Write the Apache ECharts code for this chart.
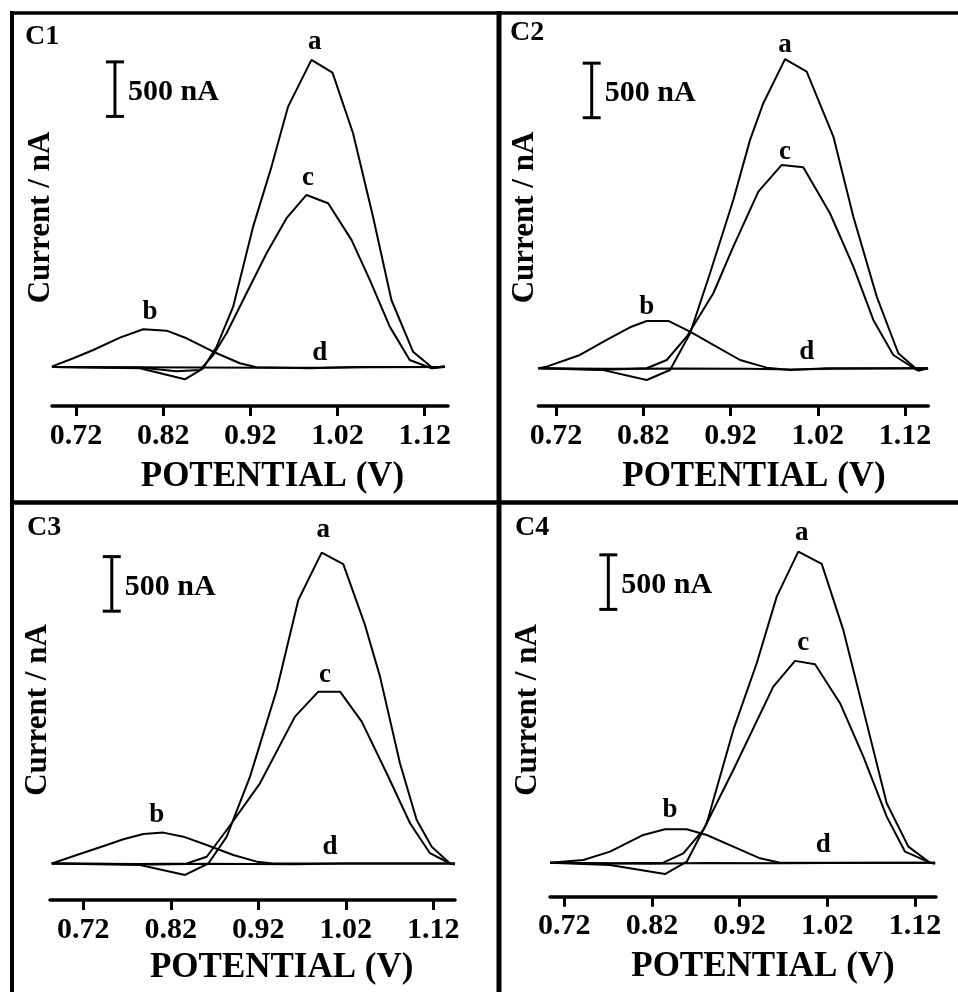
<!DOCTYPE html>
<html>
<head>
<meta charset="utf-8">
<script src="https://cdn.jsdelivr.net/npm/echarts@6/dist/echarts.min.js"></script>
<style>
html,body{margin:0;padding:0;background:#fff;}
#chart{width:958px;height:992px;}
</style>
</head>
<body>
<div id="chart"></div>
<script>
// ---------------- data ----------------
const potentialTicks = [0.72, 0.82, 0.92, 1.02, 1.12];
const panelTitles = ['C1', 'C2', 'C3', 'C4'];
const curveNames = ['a', 'b', 'c', 'd'];
const xAxisTitle = 'POTENTIAL (V)';
const yAxisTitle = 'Current / nA';
const scaleBarValue = 500;
const scaleBarText = '500 nA';

// Panel C1 (potential V, current nA)
const c1A = [[0.6925,0],[0.7934,-12],[0.8449,-113],[0.8659,-12],[0.8813,186],[0.9003,553],[0.9232,1287],[0.9443,1837],[0.9633,2387],[0.9901,2815],[1.0142,2699],[1.0378,2143],[1.0607,1378],[1.0818,614],[1.1066,140],[1.1295,-12],[1.1429,9]];
const c1B = [[0.6921,3],[0.717,80],[0.7398,156],[0.7704,269],[0.7971,346],[0.824,333],[0.8469,263],[0.8774,140],[0.908,34],[0.9271,-3],[0.988,-12],[1.04,0],[1.1429,0]];
const c1C = [[0.6925,0],[0.7934,-5],[0.835,-40],[0.8621,-28],[0.8774,110],[0.8927,309],[0.9156,676],[0.9386,1043],[0.9615,1364],[0.9844,1577],[1.0092,1501],[1.036,1165],[1.057,798],[1.0799,370],[1.1028,64],[1.1277,-12],[1.1429,0]];
const c1D = [[0.6925,0],[0.78,-3],[0.86,-5],[0.94,-8],[1.0,-6],[1.06,-2],[1.1429,0]];

// Panel C2
const c2A = [[0.6997,0],[0.7704,-10],[0.824,-107],[0.8507,-16],[0.8736,318],[0.8965,871],[0.9232,1543],[0.9424,2094],[0.9576,2430],[0.9825,2834],[1.0073,2720],[1.0379,2124],[1.0608,1390],[1.0876,657],[1.1123,138],[1.1353,-22],[1.1464,0]];
const c2B = [[0.6997,0],[0.7093,15],[0.7475,122],[0.778,260],[0.8048,376],[0.824,434],[0.8488,434],[0.8736,336],[0.9003,214],[0.9309,76],[0.9615,6],[0.9882,-16],[1.03,0],[1.1464,0]];
const c2C = [[0.6997,0],[0.7704,-15],[0.824,0],[0.8469,76],[0.8698,290],[0.9003,688],[0.9232,1115],[0.9519,1619],[0.9787,1864],[1.0034,1843],[1.034,1421],[1.0608,932],[1.0837,443],[1.1066,122],[1.1333,-16],[1.1464,0]];
const c2D = [[0.6997,0],[0.78,-5],[0.86,-3],[0.94,-5],[0.99,-10],[1.04,-5],[1.1464,0]];

// Panel C3
const c3A = [[0.6839,0],[0.7848,-14],[0.8362,-105],[0.8629,0],[0.8839,246],[0.9105,796],[0.941,1591],[0.9657,2416],[0.9924,2850],[1.0171,2744],[1.0419,2187],[1.0591,1713],[1.0819,919],[1.101,399],[1.1182,154],[1.1391,0],[1.1448,-10]];
const c3B = [[0.6839,0],[0.7125,78],[0.7467,170],[0.7657,222],[0.7886,271],[0.8114,283],[0.8343,246],[0.861,170],[0.8914,78],[0.9182,17],[0.9371,0],[1.1448,0]];
const c3C = [[0.6839,0],[0.7848,-5],[0.8382,0],[0.861,62],[0.8839,307],[0.9219,735],[0.9619,1346],[0.9886,1575],[1.0134,1575],[1.0382,1300],[1.0667,827],[1.0934,369],[1.1162,94],[1.1391,0]];
const c3D = [[0.6839,0],[0.76,-5],[0.80,-10],[0.86,-3],[0.96,-8],[1.02,0],[1.1448,0]];

// Panel C4
const c4A = [[0.7038,0],[0.7722,-21],[0.8349,-104],[0.8597,9],[0.8825,361],[0.9128,1217],[0.9395,1828],[0.9623,2439],[0.9869,2852],[1.0136,2739],[1.0382,2134],[1.063,1339],[1.0877,545],[1.1124,147],[1.1371,0],[1.1429,-10]];
const c4B = [[0.7038,0],[0.7418,25],[0.7722,101],[0.8102,254],[0.8349,306],[0.8597,306],[0.8825,254],[0.9128,147],[0.9433,40],[0.9661,0],[1.1429,0]];
const c4C = [[0.7038,0],[0.7722,-5],[0.833,0],[0.8558,86],[0.8786,300],[0.9128,850],[0.9584,1614],[0.9832,1850],[1.006,1819],[1.0345,1462],[1.0611,972],[1.0877,422],[1.1086,101],[1.1371,0]];
const c4D = [[0.7038,0],[0.77,-8],[0.82,-10],[0.88,-3],[0.97,-5],[1.02,-3],[1.1429,0]];

const panelCurves = [[c1A,c1B,c1C,c1D],[c2A,c2B,c2C,c2D],[c3A,c3B,c3C,c3D],[c4A,c4B,c4C,c4D]];

// curve letter anchors (potential, current) in order a, b, c, d
const c1LabelAt = [[0.9939,2980],[0.8048,507],[0.9862,1730],[0.9997,126]];
const c2LabelAt = [[0.9825,2965],[0.824,565],[0.9825,1986],[1.0073,152]];
const c3LabelAt = [[0.9943,3058],[0.8039,445],[0.9962,1729],[1.0019,154]];
const c4LabelAt = [[0.9908,3021],[0.8406,483],[0.9926,2012],[1.0154,162]];
const panelLabelAt = [c1LabelAt,c2LabelAt,c3LabelAt,c4LabelAt];

// scale bar anchor (potential, bottom current)
const scaleBarAt = [[0.7647,2297],[0.7609,2297],[0.7525,2313],[0.7703,2322]];

// ---------------- layout (pixels) ----------------
const layouts = [
  {left:52,    top:7,     width:396, height:399,   xMin:0.6925, xMax:1.1467, yMin:-357.6, title:[25,37],  ylab:[40.5,217.5], xlab:[272.5,477]},
  {left:538.3, top:8.3,   width:390, height:397.7, xMin:0.6997, xMax:1.1467, yMin:-345.7, title:[510,33], ylab:[525,217.5],  xlab:[754,476.7]},
  {left:50,    top:503.5, width:405, height:396.5, xMin:0.6819, xMax:1.1448, yMin:-334.7, title:[27,528], ylab:[37.5,710],   xlab:[281.7,968]},
  {left:550,   top:502.7, width:386, height:394,   xMin:0.7038, xMax:1.1439, yMin:-311.8, title:[515,528],ylab:[527.5,710],   xlab:[763,966.7]}
];
const yMax = 3300;
const FONT = '"Liberation Serif", "Times New Roman", serif';

const grids = [], xAxes = [], yAxes = [], series = [], graphics = [];

layouts.forEach((L, i) => {
  grids.push({left:L.left, top:L.top, width:L.width, height:L.height});
  xAxes.push({
    type:'value', gridIndex:i, min:L.xMin, max:L.xMax,
    axisLine:{show:true, onZero:false, lineStyle:{color:'#000', width:3.5}},
    axisTick:{show:true, customValues:potentialTicks, length:10, lineStyle:{color:'#000', width:3}},
    axisLabel:{show:true, customValues:potentialTicks, formatter:(v)=>Number(v).toFixed(2),
      color:'#000', fontFamily:FONT, fontWeight:'bold', fontSize:30, margin:15},
    splitLine:{show:false}
  });
  yAxes.push({type:'value', gridIndex:i, min:L.yMin, max:yMax, show:false});

  panelCurves[i].forEach((d, k) => {
    series.push({
      type:'line', name:panelTitles[i]+'-'+curveNames[k], xAxisIndex:i, yAxisIndex:i,
      data:d, showSymbol:false, symbol:'none', smooth:false, clip:false,
      lineStyle:{color:'#000', width:2}, animation:false, silent:true
    });
  });

  // curve letters, placed through the axes
  series.push({
    type:'custom', xAxisIndex:i, yAxisIndex:i, animation:false, silent:true,
    data: panelLabelAt[i].map((p, k) => [p[0], p[1], k]),
    renderItem:(params, api) => {
      const p = api.coord([api.value(0), api.value(1)]);
      return {type:'text', x:p[0], y:p[1],
        style:{text:curveNames[api.value(2)], font:'bold 27px ' + FONT, fill:'#000',
          align:'center', verticalAlign:'middle', textAlign:'center', textVerticalAlign:'middle'}};
    }
  });

  // 500 nA scale bar
  series.push({
    type:'custom', xAxisIndex:i, yAxisIndex:i, animation:false, silent:true,
    data:[[scaleBarAt[i][0], scaleBarAt[i][1], scaleBarAt[i][1] + scaleBarValue]],
    renderItem:(params, api) => {
      const t = api.coord([api.value(0), api.value(2)]);
      const b = api.coord([api.value(0), api.value(1)]);
      const w = 9;
      const st = {stroke:'#000', lineWidth:3};
      return {type:'group', children:[
        {type:'line', shape:{x1:t[0], y1:t[1], x2:b[0], y2:b[1]}, style:st},
        {type:'line', shape:{x1:t[0]-w, y1:t[1], x2:t[0]+w, y2:t[1]}, style:st},
        {type:'line', shape:{x1:b[0]-w, y1:b[1], x2:b[0]+w, y2:b[1]}, style:st},
        {type:'text', x:t[0]+13, y:(t[1]+b[1])/2 + 3,
          style:{text:scaleBarText, font:'bold 30px ' + FONT, fill:'#000',
            align:'left', verticalAlign:'middle', textAlign:'left', textVerticalAlign:'middle'}}
      ]};
    }
  });

  graphics.push({type:'text', x:L.title[0], y:L.title[1],
    style:{text:panelTitles[i], font:'bold 28px ' + FONT, fill:'#000',
      align:'left', verticalAlign:'middle', textAlign:'left', textVerticalAlign:'middle'}});
  graphics.push({type:'text', x:L.ylab[0], y:L.ylab[1], rotation:Math.PI/2,
    style:{text:yAxisTitle, font:'bold 31px ' + FONT, fill:'#000',
      align:'center', verticalAlign:'middle', textAlign:'center', textVerticalAlign:'middle'}});
  graphics.push({type:'text', x:L.xlab[0], y:L.xlab[1],
    style:{text:xAxisTitle, font:'bold 35px ' + FONT, fill:'#000',
      align:'center', verticalAlign:'middle', textAlign:'center', textVerticalAlign:'middle'}});
});

// panel frame lines
graphics.push({type:'line', shape:{x1:10, y1:13, x2:958, y2:13}, style:{stroke:'#000', lineWidth:3.5}});
graphics.push({type:'line', shape:{x1:12, y1:11, x2:12, y2:992}, style:{stroke:'#000', lineWidth:4}});
graphics.push({type:'line', shape:{x1:499, y1:11, x2:499, y2:992}, style:{stroke:'#000', lineWidth:5}});
graphics.push({type:'line', shape:{x1:10, y1:502.5, x2:958, y2:502.5}, style:{stroke:'#000', lineWidth:4.5}});

const chart = echarts.init(document.getElementById('chart'), null, {renderer:'canvas'});
chart.setOption({
  animation:false,
  backgroundColor:'#fff',
  grid:grids, xAxis:xAxes, yAxis:yAxes, series:series,
  graphic:graphics
});
</script>
</body>
</html>
